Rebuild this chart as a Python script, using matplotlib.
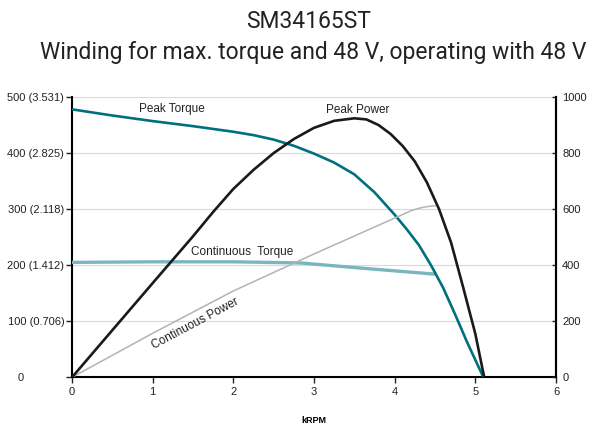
import numpy as np
import matplotlib.pyplot as plt
from matplotlib.transforms import ScaledTranslation

# speed in kRPM, torque (left axis), power (right axis)
pk_torque_x = [0, 0.5, 1.0, 1.5, 2.0, 2.25, 2.5, 2.75, 3.0, 3.25, 3.5, 3.75, 4.0,
               4.15, 4.3, 4.45, 4.6, 4.75, 4.9, 5.1]
pk_torque_y = [478, 467, 457, 448, 438, 432, 424, 413, 399, 383, 362, 330, 290,
               264, 236, 200, 160, 112, 62, 0]

pk_power_x = [0, 0.5, 1.0, 1.5, 1.75, 2.0, 2.25, 2.5, 2.75, 3.0, 3.25, 3.5, 3.65, 3.8,
              3.95, 4.1, 4.25, 4.4, 4.55, 4.7, 4.85, 5.0, 5.11]
pk_power_y = [0, 168, 336, 503, 590, 672, 740, 800, 850, 890, 915, 924, 920, 900,
              868, 825, 770, 695, 600, 480, 320, 155, 0]

ct_torque_x = [0, 1.0, 2.0, 2.83, 3.65, 4.5]
ct_torque_y = [205, 206, 206, 204, 194, 184]

ct_power_x = [0, 1.0, 2.0, 3.0, 4.0, 4.2, 4.3, 4.4, 4.5]
ct_power_y = [0, 157, 308, 440, 568, 594, 603, 609, 612]

left_ticks = [0, 100, 200, 300, 400, 500]
left_labels = ["0", "100 (0.706)", "200 (1.412)", "300 (2.118)", "400 (2.825)", "500 (3.531)"]
right_ticks = [0, 200, 400, 600, 800, 1000]
x_ticks = [0, 1, 2, 3, 4, 5, 6]

plt.rcParams['font.family'] = ['Liberation Sans', 'DejaVu Sans']

fig = plt.figure(figsize=(5.91, 4.26), dpi=100)
ax = fig.add_axes([72/591, 1 - 377.3/426, (556 - 72)/591, (377.3 - 97)/426])
ax2 = ax.twinx()

ax.set_xlim(0, 6)
ax.set_ylim(0, 500)
ax2.set_ylim(0, 1000)

ax.set_yticks(left_ticks)
ax.set_yticklabels(left_labels)
ax.set_xticks(x_ticks)
ax2.set_yticks(right_ticks)

ax.grid(axis='y', color='#d9d9d9', lw=0.8)
ax.set_axisbelow(True)

for a in (ax, ax2):
    a.spines['top'].set_visible(False)
    for s in ('left', 'right', 'bottom'):
        a.spines[s].set_linewidth(1.5)
        a.spines[s].set_color('black')
ax2.spines['left'].set_visible(False)
ax2.spines['bottom'].set_visible(False)

ax.tick_params(axis='y', direction='out', length=4, width=1, pad=1.5, labelsize=8, colors='#222222')
ax.tick_params(axis='x', direction='out', length=4, width=1, pad=3, labelsize=8, colors='#222222')
ax2.tick_params(axis='y', direction='in', length=3, width=1, pad=4.5, labelsize=8, colors='#222222')

# the "0" label on the left sits further out
lbl0 = ax.get_yticklabels()[0]
lbl0.set_transform(lbl0.get_transform() + ScaledTranslation(-0.41, 0, fig.dpi_scale_trans))

ax.plot(ct_torque_x, ct_torque_y, color='#7ab6bf', lw=2.4, zorder=3)
ax.plot(pk_torque_x, pk_torque_y, color='#00707e', lw=1.9, zorder=4)
ax2.plot(ct_power_x, ct_power_y, color='#b3b3b3', lw=1.1, zorder=3)
ax2.plot(pk_power_x, pk_power_y, color='#1a1a1a', lw=1.9, zorder=4)

ax.text(1.24, 479, "Peak Torque", fontsize=8.5, ha='center', va='center', color='#222222')
ax.text(3.54, 476, "Peak Power", fontsize=8.5, ha='center', va='center', color='#222222')
ax.text(2.11, 224, "Continuous  Torque", fontsize=8.5, ha='center', va='center', color='#222222')
ax.text(1.53, 95, "Continuous Power", fontsize=8.5, ha='center', va='center',
        rotation=28, rotation_mode='anchor', color='#222222')

ax.set_xlabel("kRPM", fontsize=6.5, fontweight='bold', labelpad=14)

fig.text(0.522, 1 - 22/426, "SM34165ST", fontsize=16.5, ha='center', va='center',
         family=['Roboto', 'DejaVu Sans'], color='#222222')
fig.text(0.53, 1 - 52/426, "Winding for max. torque and 48 V, operating with 48 V", fontsize=16.5,
         ha='center', va='center', family=['Roboto', 'DejaVu Sans'], color='#222222')

fig.savefig("out.png", dpi=100)
